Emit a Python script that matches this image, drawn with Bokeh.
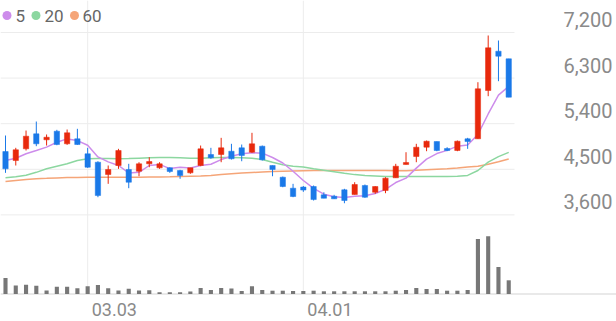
from bokeh.plotting import figure
from bokeh.models import Range1d, ColumnDataSource
from bokeh.embed import file_html
from bokeh.resources import INLINE
from bokeh.core.properties import value

# ---------------- data ----------------
opens = [4851, 4673, 4904, 5200, 5082, 5252, 5003, 5102, 4806, 4640,
         4397, 4575, 4496, 4462, 4608, 4529, 4529, 4476, 4430, 4575,
         4792, 4792, 4857, 4924, 4837, 4956, 4575, 4344, 4127, 4150,
         4160, 3996, 3969, 4095, 4002, 4180, 4047, 4081, 4332, 4594,
         4752, 4936, 5048, 4910, 4871, 5102, 5102, 6055, 6831, 6681]
highs = [5167, 4924, 5265, 5443, 5187, 5279, 5285, 5299, 4924, 4659,
         4575, 4904, 4608, 4640, 4738, 4640, 4541, 4490, 4529, 4969,
         4924, 5121, 5003, 4989, 5220, 4969, 4575, 4357, 4213, 4170,
         4180, 4047, 3996, 4115, 4245, 4200, 4166, 4344, 4608, 4837,
         5003, 5068, 5048, 4936, 5068, 5121, 6219, 7141, 7042, 6681]
lows = [4430, 4575, 4871, 4956, 4969, 4975, 4983, 4983, 4529, 3949,
        4213, 4509, 4127, 4363, 4541, 4509, 4430, 4312, 4411, 4561,
        4707, 4640, 4693, 4659, 4825, 4673, 4363, 4146, 3949, 4055,
        3884, 3929, 3917, 3830, 4002, 3937, 4016, 4028, 4332, 4594,
        4640, 4857, 4857, 4857, 4857, 4904, 5102, 5943, 6239, 5923]
closes = [4509, 4885, 5153, 5003, 5133, 4989, 5220, 4989, 4541, 3982,
          4496, 4871, 4245, 4608, 4653, 4608, 4456, 4377, 4529, 4904,
          4727, 4924, 4707, 4772, 5003, 4687, 4496, 4160, 3963, 4090,
          3903, 3929, 3917, 3884, 4200, 3949, 4160, 4324, 4561, 4634,
          4936, 5054, 4871, 4871, 5054, 5048, 6089, 6898, 6732, 5923]
volumes = [160000, 85000, 93000, 83000, 35000, 73000, 72000, 57000, 77000, 90000,
           57000, 35000, 53000, 35000, 37000, 18000, 18000, 18000, 24000, 60000,
           41000, 60000, 56000, 31000, 77000, 40000, 33000, 33000, 30000, 30000,
           33000, 27000, 27000, 27000, 27000, 27000, 27000, 27000, 33000, 40000,
           60000, 50000, 50000, 33000, 33000, 40000, 550000, 577000, 270000, 137000]
ma5 = [4673, 4719, 4806, 4871, 4937, 5033, 5100, 5067, 4974, 4744,
       4646, 4576, 4427, 4440, 4575, 4597, 4514, 4540, 4525, 4575,
       4599, 4692, 4758, 4807, 4827, 4819, 4733, 4624, 4462, 4279,
       4122, 4009, 3960, 3945, 3967, 3976, 4022, 4103, 4239, 4326,
       4523, 4702, 4811, 4873, 4957, 4980, 5187, 5592, 5964, 6138]
ma20 = [4332, 4355, 4383, 4440, 4510, 4560, 4608, 4673, 4707, 4712,
        4712, 4707, 4712, 4720, 4727, 4733, 4733, 4727, 4720, 4720,
        4727, 4733, 4733, 4727, 4720, 4693, 4640, 4590, 4560, 4545,
        4510, 4480, 4450, 4420, 4395, 4380, 4370, 4360, 4357, 4357,
        4357, 4357, 4357, 4360, 4365, 4380, 4476, 4640, 4750, 4835]
ma60 = [4258, 4280, 4300, 4315, 4322, 4330, 4336, 4340, 4344, 4344,
        4344, 4344, 4344, 4344, 4346, 4348, 4352, 4357, 4362, 4367,
        4380, 4395, 4410, 4425, 4436, 4446, 4455, 4462, 4466, 4470,
        4474, 4476, 4476, 4476, 4476, 4476, 4476, 4474, 4472, 4470,
        4480, 4490, 4500, 4510, 4525, 4545, 4561, 4600, 4650, 4705]
x_tick_index = [8, 29]
x_tick_labels = ["03.03", "04.01"]
price_ticks = [7200, 6300, 5400, 4500, 3600]
price_tick_labels = ["7,200", "6,300", "5,400", "4,500", "3,600"]
legend_labels = ["5", "20", "60"]

# ---------------- styling / geometry ----------------
W, H = 616, 321
STEP = 10.27                      # px per candle
X0 = -5 / STEP
X1 = X0 + W / STEP
PPX = 900 / 45.6                  # price units per px
PTOP = 7200 + 32 * PPX
PBOT = PTOP - H * PPX
VPX = 10000                       # volume units per px
VBASE = 293.5                     # px of volume baseline
VTOP = VBASE * VPX
VBOT = -(H - VBASE) * VPX

RED = "#e8290c"
BLUE = "#1a79e8"
C5, C20, C60 = "#cd8ceb", "#8cd7a0", "#f5a578"
GRID = "#ececec"


def xpx(px):
    return X0 + px / STEP


def ypx(px):
    return PTOP - px * PPX


p = figure(width=W, height=H, output_backend="svg", toolbar_location=None,
           x_range=Range1d(X0, X1), y_range=Range1d(PBOT, PTOP),
           x_axis_location=None, y_axis_location=None,
           min_border=0, min_border_left=0, min_border_right=0,
           min_border_top=0, min_border_bottom=0)
p.extra_y_ranges = {"vol": Range1d(VBOT, VTOP)}
p.outline_line_color = None
p.xgrid.visible = False
p.ygrid.visible = False
p.background_fill_color = "white"
p.border_fill_color = "white"

# horizontal price gridlines
p.segment(x0=[xpx(0)] * len(price_ticks), x1=[xpx(514)] * len(price_ticks),
          y0=price_ticks, y1=price_ticks, line_color=GRID, line_width=1)
# vertical date gridlines
p.segment(x0=x_tick_index, x1=x_tick_index, y0=[0] * len(x_tick_index),
          y1=[VTOP] * len(x_tick_index), line_color=GRID, line_width=1,
          y_range_name="vol")
# volume baseline
p.segment(x0=[X0], x1=[X1], y0=[0], y1=[0], line_color="#e2e2e2",
          line_width=1.5, y_range_name="vol")

idx = list(range(len(closes)))

# volume bars
p.vbar(x=idx, top=volumes, bottom=0, width=0.4, fill_color="#777777",
       line_color=None, y_range_name="vol")

# moving averages
p.line(idx, ma60, line_color=C60, line_width=1.5)
p.line(idx, ma20, line_color=C20, line_width=1.5)
p.line(idx, ma5, line_color=C5, line_width=1.5)

# candles
cols = [RED if c >= o else BLUE for o, c in zip(opens, closes)]
btm = [min(o, c) for o, c in zip(opens, closes)]
tp = [max(max(o, c), min(o, c) + PPX) for o, c in zip(opens, closes)]
src = ColumnDataSource(dict(x=idx, hi=highs, lo=lows, top=tp, bottom=btm, color=cols))
p.segment(x0="x", x1="x", y0="lo", y1="hi", line_color="color", line_width=1, source=src)
p.vbar(x="x", top="top", bottom="bottom", width=0.52, fill_color="color",
       line_color="color", line_width=0.5, source=src)

# price labels (right side, above each gridline)
p.text(x=[xpx(612)] * len(price_ticks), y=price_ticks, text=price_tick_labels,
       text_font=value("Roboto"), text_font_size="20px", text_color="#8a8a8a",
       text_align="right", text_baseline="middle", y_offset=-13)

# date labels
p.text(x=x_tick_index, y=[-(309 - VBASE) * VPX] * len(x_tick_index), text=x_tick_labels,
       text_font=value("Roboto"), text_font_size="18px", text_color="#8a8a8a",
       text_align="left", text_baseline="middle", x_offset=4, y_range_name="vol")

# legend
lx_dot = [xpx(6.5), xpx(35.5), xpx(74)]
lx_txt = [xpx(15), xpx(44), xpx(82)]
ly = [ypx(15)] * 3
p.scatter(lx_dot, ly, size=9, marker="circle", fill_color=[C5, C20, C60], line_color=None)
p.text(x=lx_txt, y=ly, text=legend_labels, text_font=value("Roboto"),
       text_font_size="17px", text_color="#666666", text_align="left",
       text_baseline="middle")

open("out.html", "w").write(file_html(p, INLINE))
